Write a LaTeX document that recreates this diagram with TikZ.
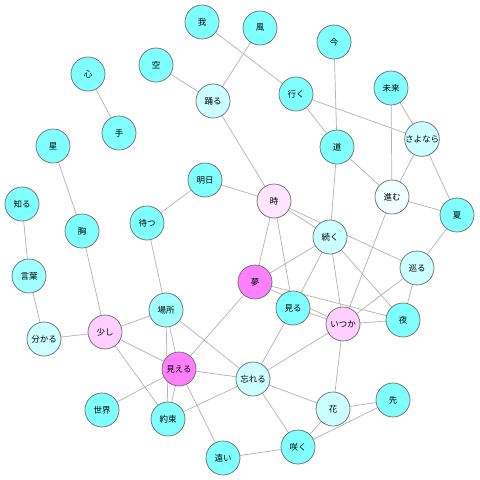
\documentclass[tikz,border=0pt]{standalone}
\usepackage{fontspec}
\newfontfamily\jpfont{Noto Sans CJK JP}
\usetikzlibrary{positioning,shapes,calc,backgrounds}
\definecolor{aqua}{RGB}{128,255,255}
\definecolor{aqualight}{RGB}{160,255,255}
\definecolor{aquapale}{RGB}{204,255,255}
\definecolor{aquawhite}{RGB}{240,255,255}
\definecolor{pinkpale}{RGB}{255,230,255}
\definecolor{pinklight}{RGB}{255,208,255}
\definecolor{magentamid}{RGB}{255,128,255}

\begin{document}
\begin{tikzpicture}[x=1pt, y=-1pt,
                    word/.style={circle, draw=gray!85!black, line width=0.7pt, fill=aqua,
                                 minimum size=34pt, inner sep=0pt, font=\jpfont\fontsize{8.5}{10}\selectfont},
                    link/.style={draw=gray!60, line width=0.7pt}]
    \useasboundingbox (0,0) rectangle (480,480);

    % words
    \node[word] (ware) at (202,22) {我};
    \node[word] (kaze) at (260,28) {風};
    \node[word] (sora) at (156,65) {空};
    \node[word] (kokoro) at (88,74) {心};
    \node[word, fill=aquapale] (odoru) at (213,101) {踊る};
    \node[word] (te) at (119,133) {手};
    \node[word] (ima) at (334,42) {今};
    \node[word] (iku) at (296,94) {行く};
    \node[word] (mirai) at (391,88) {未来};
    \node[word, fill=aquapale] (sayonara) at (422,139) {さよなら};
    \node[word] (michi) at (337,147) {道};
    \node[word, fill=aquawhite] (susumu) at (392,197) {進む};
    \node[word] (natsu) at (457,215) {夏};
    \node[word, fill=pinkpale] (toki) at (274,201) {時};
    \node[word] (hoshi) at (53,146) {星};
    \node[word] (ashita) at (205,180) {明日};
    \node[word] (shiru) at (22,204) {知る};
    \node[word] (mune) at (82,231) {胸};
    \node[word] (matsu) at (147,223) {待つ};
    \node[word, fill=aquapale] (tsuzuku) at (330,237) {続く};
    \node[word, fill=aqualight] (kotoba) at (29,276) {言葉};
    \node[word, fill=aquapale] (meguru) at (417,268) {巡る};
    \node[word, fill=magentamid] (yume) at (255,282) {夢};
    \node[word] (miru) at (293,308) {見る};
    \node[word, fill=aqualight] (basho) at (166,310) {場所};
    \node[word, fill=pinklight] (sukoshi) at (105,332) {少し};
    \node[word, fill=aquapale] (wakaru) at (44,339) {分かる};
    \node[word, fill=pinklight] (itsuka) at (343,324) {いつか};
    \node[word] (yoru) at (403,320) {夜};
    \node[word, fill=magentamid] (mieru) at (179,369) {見える};
    \node[word, fill=aquapale] (wasureru) at (253,379) {忘れる};
    \node[word] (sekai) at (102,410) {世界};
    \node[word] (yakusoku) at (168,419) {約束};
    \node[word] (saki) at (393,400) {先};
    \node[word, fill=aquapale] (hana) at (333,409) {花};
    \node[word] (tooi) at (223,458) {遠い};
    \node[word] (saku) at (298,447) {咲く};

    % links, drawn behind the words
    \begin{pgfonlayer}{background}
    \foreach \a/\b in {ware/iku, kaze/odoru, sora/odoru, kokoro/te, odoru/toki,
                       ima/michi, iku/michi, iku/sayonara, mirai/susumu, mirai/sayonara,
                       sayonara/susumu, sayonara/natsu, michi/susumu, michi/tsuzuku,
                       susumu/natsu, susumu/itsuka, natsu/meguru, toki/ashita,
                       toki/tsuzuku, toki/meguru, toki/yume, toki/miru, ashita/matsu,
                       hoshi/mune, shiru/kotoba, mune/sukoshi, matsu/basho,
                       kotoba/wakaru, wakaru/sukoshi, sukoshi/basho, sukoshi/mieru,
                       sukoshi/yakusoku, basho/mieru, basho/yakusoku, basho/wasureru,
                       yume/mieru, yume/tsuzuku, yume/yoru, yume/itsuka,
                       miru/tsuzuku, miru/wasureru, miru/itsuka, tsuzuku/itsuka,
                       tsuzuku/yoru, meguru/itsuka, meguru/yoru, itsuka/yoru,
                       itsuka/wasureru, itsuka/hana, mieru/wasureru, mieru/sekai,
                       mieru/yakusoku, mieru/tooi, yakusoku/wasureru, wasureru/hana,
                       wasureru/saku, hana/saki, hana/saku, saku/saki, saku/tooi}
        \draw[link] (\a.center) -- (\b.center);
    \end{pgfonlayer}
\end{tikzpicture}
\end{document}
